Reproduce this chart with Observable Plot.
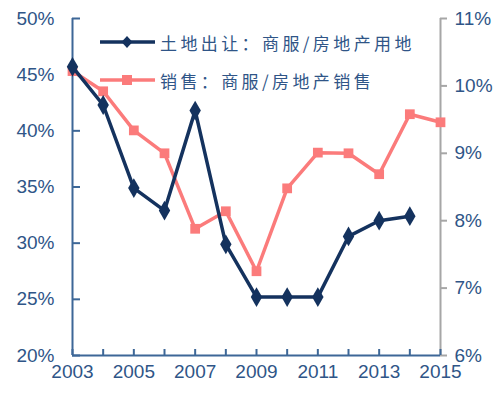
<!DOCTYPE html>
<html>
<head>
<meta charset="utf-8">
<script src="https://cdn.jsdelivr.net/npm/d3@7"></script>
<script src="https://cdn.jsdelivr.net/npm/@observablehq/plot@0.6"></script>
<style>
  html, body { margin: 0; padding: 0; background: #fff; }
  #wrap { position: relative; width: 500px; height: 394px; }
  #legend { position: absolute; left: 100px; top: 28px; font-family: "Noto Sans CJK SC", sans-serif; font-size: 17px; color: #2f5587; letter-spacing: 3.4px; }
  .row { display: flex; align-items: center; height: 28px; margin-bottom: 10px; }
  .row svg { margin-right: 4px; }
</style>
</head>
<body>
<div id="wrap"><div id="legend"></div></div>
<script>
const years = [2003,2004,2005,2006,2007,2008,2009,2010,2011,2012,2013,2014,2015];
const landShare = [45.7,42.3,34.9,32.9,41.8,29.9,25.2,25.2,25.2,30.6,32.0,32.4,null];
const salesShare = [10.22,9.92,9.34,9.0,7.88,8.14,7.25,8.48,9.01,9.0,8.69,9.58,9.46];
const leftTicks = [20,25,30,35,40,45,50];
const rightTicks = [6,7,8,9,10,11];
const xLabelYears = [2003,2005,2007,2009,2011,2013,2015];
const seriesNames = ["土地出让：商服/房地产用地", "销售：商服/房地产销售"];

const navy = "#14325e";
const salmon = "#fb7b7b";
const textBlue = "#2f5587";
const axisBlue = "#3d6797";

// right axis (6%-11%) mapped onto left axis (20%-50%)
const toLeft = v => 20 + (v - 6) * 6;

const land = years.map((y,i) => ({year: y, v: landShare[i]})).filter(d => d.v != null);
const sales = years.map((y,i) => ({year: y, v: toLeft(salesShare[i])}));

const W = 500, H = 394, mL = 72, mR = 60, mT = 18, mB = 39;
const innerW = W - mL - mR, innerH = H - mT - mB;

const chart = Plot.plot({
  width: W, height: H,
  marginLeft: mL, marginRight: mR, marginTop: mT, marginBottom: mB,
  style: {fontFamily: "Liberation Sans, Arial, sans-serif", fontSize: "19px", color: textBlue, background: "#fff"},
  x: {domain: [2003, 2015]},
  y: {domain: [20, 50]},
  marks: [
    Plot.ruleX([2003], {stroke: axisBlue, strokeWidth: 2}),
    Plot.ruleX([2015], {stroke: "#a6a6a6", strokeWidth: 2}),
    Plot.ruleY([20], {stroke: axisBlue, strokeWidth: 2}),
    Plot.tickY(leftTicks, {y: d => d, stroke: axisBlue, strokeWidth: 2, insetRight: innerW - 8}),
    Plot.tickY(rightTicks, {y: d => toLeft(d), stroke: "#a6a6a6", strokeWidth: 2, insetLeft: innerW, insetRight: -7}),
    Plot.tickX(years, {x: d => d, stroke: axisBlue, strokeWidth: 2, insetTop: innerH - 6}),
    Plot.axisY(leftTicks, {anchor: "left", label: null, tickSize: 0, tickPadding: 18, tickFormat: d => d + "%", fill: textBlue, fontSize: 19}),
    Plot.axisY(rightTicks.map(toLeft), {anchor: "right", label: null, tickSize: 0, tickPadding: 14, tickFormat: d => Math.round((d - 20) / 6 + 6) + "%", fill: textBlue, fontSize: 19}),
    Plot.axisX(xLabelYears, {label: null, tickSize: 0, tickPadding: 9, tickFormat: d => String(d), fill: textBlue, fontSize: 19}),
    Plot.line(sales, {x: "year", y: "v", stroke: salmon, strokeWidth: 3.5}),
    Plot.dot(sales, {x: "year", y: "v", symbol: "square", fill: salmon, r: 5.5}),
    Plot.line(land, {x: "year", y: "v", stroke: navy, strokeWidth: 3.5}),
    Plot.dot(land, {x: "year", y: "v", symbol: "diamond", fill: navy, r: 6})
  ]
});
document.getElementById("wrap").prepend(chart);

const legend = document.getElementById("legend");
const items = [
  {name: seriesNames[0], color: navy, sym: "diamond"},
  {name: seriesNames[1], color: salmon, sym: "square"}
];
items.forEach(it => {
  const row = document.createElement("div");
  row.className = "row";
  const shape = it.sym === "diamond"
    ? `<polygon points="27,8 32.5,14 27,20 21.5,14" fill="${it.color}"/>`
    : `<rect x="22" y="9" width="10" height="10" fill="${it.color}"/>`;
  row.innerHTML = `<svg width="56" height="28"><line x1="0" y1="14" x2="55" y2="14" stroke="${it.color}" stroke-width="3.5"/>${shape}</svg><span>${it.name}</span>`;
  legend.appendChild(row);
});
</script>
</body>
</html>
